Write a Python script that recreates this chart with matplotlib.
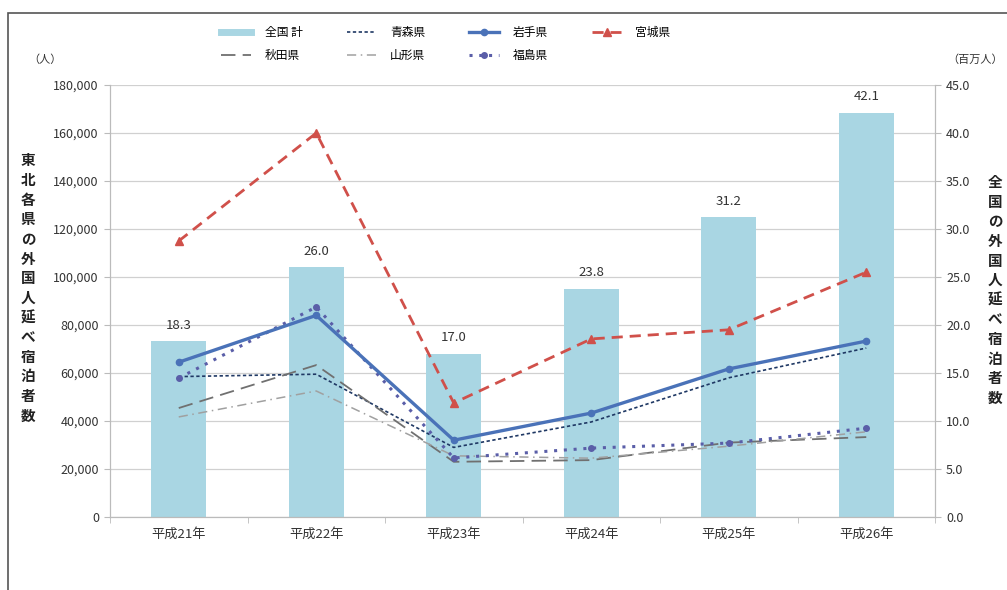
import matplotlib
matplotlib.use("Agg")
import matplotlib.pyplot as plt
from matplotlib.lines import Line2D
from matplotlib.patches import Rectangle
import numpy as np

plt.rcParams['font.family'] = ['Noto Sans CJK JP', 'DejaVu Sans']

years = ['平成21年', '平成22年', '平成23年', '平成24年', '平成25年', '平成26年']
national = [18.3, 26.0, 17.0, 23.8, 31.2, 42.1]   # 百万人
aomori = [58500, 59500, 29000, 39600, 58000, 70400]
iwate = [64500, 84000, 32000, 43300, 61700, 73300]
miyagi = [115000, 160000, 47500, 74200, 78000, 102000]
akita = [45400, 63300, 23000, 23700, 31000, 33300]
yamagata = [41700, 52500, 25500, 24500, 29500, 35500]
fukushima = [57900, 87500, 24600, 28700, 30800, 37000]

left_ticks = np.arange(0, 180001, 20000)
right_ticks = np.arange(0, 45.1, 5)

fig = plt.figure(figsize=(10.07, 5.9), dpi=100)
fig.patches.append(Rectangle((8/1007, -0.1), 1.2, 1 - 13/590 + 0.1, transform=fig.transFigure,
                             fill=False, edgecolor='#555555', linewidth=1.2))

ax2 = fig.add_axes([110/1007, 1 - 517/590, (935 - 110)/1007, (517 - 85)/590])
ax = ax2.twinx()
ax2.yaxis.tick_right()
ax.yaxis.tick_left()
ax.yaxis.set_label_position('left')
ax.set_zorder(ax2.get_zorder() + 1)
ax.patch.set_visible(False)

x = np.arange(len(years))
ax2.bar(x, national, width=0.4, color='#A9D6E3', zorder=2, label='全国 計')
for xi, v in zip(x, national):
    ax2.text(xi, v + 1.0, f'{v:.1f}', ha='center', va='bottom', fontsize=9.5, color='#333333')
ax2.set_ylim(0, 45)
ax2.set_yticks(right_ticks)
ax2.set_yticklabels([f'{t:.1f}' for t in right_ticks], fontsize=9, color='#333333')
ax2.grid(axis='y', color='#d0d0d0', linewidth=0.9, zorder=0)
ax2.set_axisbelow(True)

ax.plot(x, aomori, color='#1F3864', linestyle=(0, (2, 1.5)), linewidth=1.2, label='青森県')
ax.plot(x, akita, color='#707070', linestyle=(0, (8, 4)), linewidth=1.3, label='秋田県')
ax.plot(x, yamagata, color='#A0A0A0', linestyle=(0, (6, 3, 1, 3)), linewidth=1.1, label='山形県')
ax.plot(x, fukushima, color='#5A5EA8', linestyle=(0, (1, 2.2)), linewidth=2.2,
        marker='o', markersize=4, label='福島県')
ax.plot(x, iwate, color='#4A72B8', linestyle='-', linewidth=2.4,
        marker='o', markersize=4.5, label='岩手県')
ax.plot(x, miyagi, color='#D0504A', linestyle=(0, (4, 2.5)), linewidth=2.0,
        marker='^', markersize=6, label='宮城県')

ax.set_ylim(0, 180000)
ax.set_yticks(left_ticks)
ax.set_yticklabels([f'{t:,}' for t in left_ticks], fontsize=9, color='#333333')
ax.set_xlim(-0.5, 5.5)
ax2.set_xlim(-0.5, 5.5)
ax2.set_xticks(x)
ax2.set_xticklabels(years, fontsize=9.5, color='#333333')
ax2.set_xticks(np.arange(-0.5, 6, 1), minor=True)
ax2.tick_params(axis='x', which='major', length=0, pad=8)
ax2.tick_params(axis='x', which='minor', length=4, color='#bbbbbb')
ax2.tick_params(axis='y', length=4, color='#bbbbbb', pad=4)
ax.tick_params(axis='y', length=4, color='#bbbbbb', pad=4)
ax.tick_params(axis='x', length=0)

for a in (ax, ax2):
    a.spines['top'].set_visible(False)
    for s in ('left', 'right', 'bottom'):
        a.spines[s].set_color('#bbbbbb')

fig.text(45/1007, 1 - 60/590, '（人）', fontsize=8, ha='center', va='center', color='#333333')
fig.text(975/1007, 1 - 60/590, '（百万人）', fontsize=8, ha='center', va='center', color='#333333')
fig.text(28/1007, 1 - 288/590, '\n'.join('東北各県の外国人延べ宿泊者数'), fontsize=10.5,
         fontweight='bold', ha='center', va='center', linespacing=1.28, color='#222222')
fig.text(995/1007, 1 - 290/590, '\n'.join('全国の外国人延べ宿泊者数'), fontsize=10.5,
         fontweight='bold', ha='center', va='center', linespacing=1.28, color='#222222')

h_bar = Line2D([], [], color='#A9D6E3', linewidth=5)
hl, ll = ax.get_legend_handles_labels()
d = dict(zip(ll, hl))
handles = [h_bar, d['秋田県'], d['青森県'], d['山形県'], d['岩手県'], d['福島県'], d['宮城県']]
labels = ['全国 計', '秋田県', '青森県', '山形県', '岩手県', '福島県', '宮城県']
fig.legend(handles, labels, ncol=4, loc='center', bbox_to_anchor=(446/1007, 1 - 44/590),
           frameon=False, fontsize=8.5, handlelength=2.5, columnspacing=3.7,
           labelspacing=0.9, handletextpad=1.2)

fig.savefig('out.png', dpi=100)
